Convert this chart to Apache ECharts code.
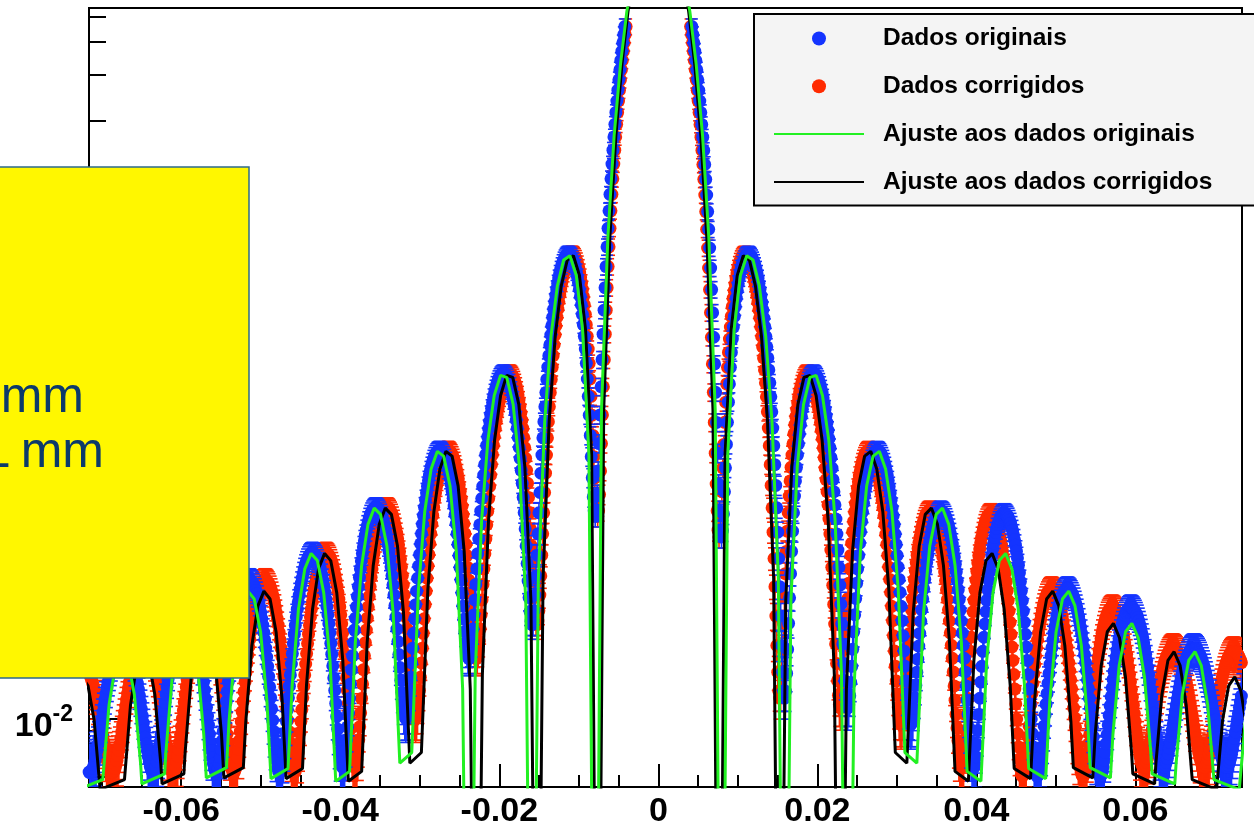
<!DOCTYPE html>
<html><head><meta charset="utf-8">
<script src="https://cdn.jsdelivr.net/npm/echarts@6/dist/echarts.min.js"></script>
<style>html,body{margin:0;padding:0;background:#fff}#c{width:1254px;height:829px}</style>
</head><body><div id="c"></div>
<script>
// ---------------- axis ticks / labels ----------------
const xTickValues = [-0.06, -0.04, -0.02, 0, 0.02, 0.04, 0.06];
const xTickLabels = ['-0.06', '-0.04', '-0.02', '0', '0.02', '0.04', '0.06'];
const xMinorTicks = [-0.07, -0.065, -0.055, -0.05, -0.045, -0.035, -0.03, -0.025, -0.015, -0.01, -0.005,
  0.005, 0.01, 0.015, 0.025, 0.03, 0.035, 0.045, 0.05, 0.055, 0.065, 0.07];
const yTickValues = [0.01, 0.1, 1];
const yTickExponents = ['-2', '-1', '0'];
const yMinorTicks = [0.006, 0.007, 0.008, 0.009, 0.02, 0.03, 0.04, 0.05, 0.06, 0.07, 0.08, 0.09,
  0.2, 0.3, 0.4, 0.5, 0.6, 0.7, 0.8, 0.9, 2, 3, 4, 5];

// ---------------- measured scan (read from picture) ----------------
// uniform scan grid; the corrected data keeps the intensities, x is rescaled
const scanStepOrig = 0.0001240625;
const scanStepCorr = 0.000119224;
const leftStartOrig = -0.0744375, rightStartOrig = 0.004218125;
const leftStartCorr = -0.0715344, rightStartCorr = 0.0040536;

const intensityLeft = [
0.01487,0.01455,0.01419,0.0138,0.01338,0.01293,0.01247,0.01199,0.0115,0.01101,0.01051,0.01002,0.00954,0.00908,0.00863,0.00821,0.00782,0.00746,0.00714,0.00686,0.00663,0.00645,0.00631,0.00623,0.0062,
0.00622,0.00631,0.00645,0.00665,0.0069,0.00721,0.00756,0.00797,0.00842,0.00891,0.00944,0.01,0.01059,0.01121,0.01184,0.01249,0.01315,0.0138,0.01445,0.01508,0.0157,0.0163,0.01687,0.01741,0.0179,0.01835,0.01875,0.0191,0.01939,0.01963,0.0198,0.0199,0.01994,0.01992,0.01982,0.01966,0.01944,0.01916,0.01881,0.01841,0.01795,0.01744,0.01689,0.0163,0.01568,0.01502,0.01435,0.01366,0.01297,0.01227,0.01158,0.01091,0.01025,0.00963,0.00903,0.00848,0.00798,0.00753,0.00714,0.00681,0.00655,0.00636,0.00624,0.0062,
0.00624,0.00636,0.00656,0.00683,0.00719,0.00762,0.00812,0.00869,0.00932,0.01002,0.01076,0.01156,0.01239,0.01326,0.01416,0.01507,0.016,0.01692,0.01783,0.01873,0.01961,0.02046,0.02126,0.02202,0.02272,0.02336,0.02393,0.02442,0.02483,0.02516,0.02541,0.02556,0.02562,0.02559,0.02546,0.02524,0.02493,0.02453,0.02404,0.02347,0.02283,0.02211,0.02134,0.0205,0.01962,0.0187,0.01775,0.01678,0.01579,0.01481,0.01383,0.01288,0.01195,0.01106,0.01022,0.00944,0.00873,0.00809,0.00753,0.00706,0.00669,0.00642,0.00626,0.0062,
0.00626,0.00643,0.00671,0.0071,0.00761,0.00822,0.00893,0.00975,0.01065,0.01164,0.01271,0.01385,0.01504,0.01629,0.01757,0.01888,0.0202,0.02153,0.02285,0.02414,0.0254,0.02662,0.02778,0.02887,0.02988,0.03081,0.03163,0.03235,0.03296,0.03344,0.0338,0.03403,0.03413,0.03409,0.03392,0.03361,0.03317,0.03261,0.03191,0.03111,0.03019,0.02917,0.02805,0.02686,0.02559,0.02427,0.0229,0.0215,0.02009,0.01867,0.01726,0.01588,0.01454,0.01325,0.01204,0.0109,0.00987,0.00894,0.00813,0.00745,0.00691,0.00652,0.00628,0.0062,
0.00627,0.00649,0.00686,0.00738,0.00804,0.00884,0.00977,0.01084,0.01203,0.01333,0.01473,0.01623,0.0178,0.01944,0.02114,0.02287,0.02462,0.02638,0.02813,0.02985,0.03153,0.03316,0.03471,0.03617,0.03753,0.03878,0.03989,0.04087,0.0417,0.04237,0.04288,0.04321,0.04337,0.04335,0.04315,0.04277,0.04222,0.0415,0.04061,0.03957,0.03838,0.03705,0.03559,0.03403,0.03236,0.03062,0.02881,0.02696,0.02508,0.0232,0.02133,0.01949,0.0177,0.01598,0.01435,0.01284,0.01145,0.0102,0.00911,0.00819,0.00747,0.00693,0.00661,0.0065,
0.00661,0.00695,0.00751,0.00829,0.0093,0.01053,0.01196,0.0136,0.01543,0.01744,0.0196,0.02191,0.02435,0.0269,0.02953,0.03222,0.03495,0.03769,0.04043,0.04313,0.04578,0.04834,0.05079,0.05311,0.05528,0.05727,0.05907,0.06065,0.062,0.06311,0.06396,0.06455,0.06487,0.06492,0.06471,0.06424,0.06349,0.0625,0.06124,0.05975,0.05803,0.0561,0.05398,0.05168,0.04922,0.04664,0.04395,0.04118,0.03837,0.03553,0.03271,0.02992,0.02721,0.02459,0.02211,0.01979,0.01765,0.01573,0.01405,0.01263,0.0115,0.01068,0.01017,0.01,
0.01017,0.0107,0.01159,0.01283,0.01443,0.01638,0.01867,0.02129,0.02421,0.02744,0.03093,0.03467,0.03863,0.04277,0.04706,0.05147,0.05597,0.06051,0.06504,0.06955,0.07397,0.07827,0.08242,0.08637,0.09008,0.09352,0.09666,0.09945,0.1019,0.1039,0.1055,0.1067,0.1074,0.1078,0.1076,0.1071,0.106,0.1046,0.1027,0.1004,0.09776,0.09471,0.09131,0.0876,0.08362,0.07939,0.07496,0.07037,0.06568,0.06093,0.05618,0.05146,0.04685,0.04238,0.03812,0.03411,0.03042,0.02708,0.02414,0.02166,0.01967,0.0182,0.01731,0.017,
0.01731,0.0183,0.01986,0.0221,0.02504,0.0286,0.03283,0.0377,0.04312,0.0491,0.0557,0.0628,0.07026,0.0782,0.0864,0.0949,0.1036,0.1125,0.1214,0.1304,0.1392,0.1479,0.1563,0.1644,0.1721,0.1794,0.186,0.1921,0.1975,0.2022,0.2061,0.2091,0.2113,0.2126,0.213,0.2125,0.211,0.2087,0.2054,0.2012,0.1961,0.1902,0.1835,0.1761,0.168,0.1593,0.1502,0.1406,0.1307,0.1206,0.1104,0.1002,0.09016,0.08036,0.07094,0.06202,0.05373,0.04619,0.03951,0.03382,0.02922,0.02582,0.02372,0.023,
0.02374,0.026,0.02988,0.0354,0.04254,0.0514,0.06189,0.0741,0.08791,0.1033,0.1203,0.1387,0.1585,0.1795,0.2017,0.2249,0.2489,0.2737,0.2989,0.3244,0.3501,0.3757,0.401,0.4259,0.45,0.4732,0.4952,0.5159,0.535,0.5523,0.5677,0.5809,0.5919,0.6007,0.607,0.6108,0.6119,0.6103,0.606,0.5989,0.589,0.5764,0.561,0.5431,0.5227,0.4999,0.4751,0.4483,0.4198,0.39,0.3591,0.3276,0.2957,0.2639,0.2327,0.2025,0.1737,0.147,0.1228,0.1018,0.08439,0.07123,0.06291,0.06,
0.0631,0.0728,0.0897,0.1143,0.1473,0.189,0.2402,0.3012,0.3725,0.4547,0.5478,0.6526,0.7691,0.8978,1.0385,1.192,1.358,1.536,1.727,1.931,2.146,2.374,2.614,2.865,3.127,3.4,3.684,3.976,4.277,4.588
];
const intensityRight = [
4.588,4.277,3.976,3.683,3.399,3.126,2.863,2.612,2.372,2.143,1.927,1.724,1.532,1.353,1.187,1.033,0.892,0.7627,0.646,0.5405,0.447,0.3644,0.293,0.2313,0.18,0.1378,0.105,0.0799,0.063,0.0531,
0.05,0.05293,0.0613,0.0746,0.0922,0.1134,0.1379,0.1649,0.1939,0.2245,0.2562,0.2883,0.3207,0.3527,0.384,0.4143,0.4433,0.4706,0.4959,0.5191,0.54,0.5584,0.5741,0.5872,0.5974,0.6049,0.6095,0.6113,0.6104,0.6068,0.6006,0.5919,0.5809,0.5677,0.5522,0.5348,0.5155,0.4946,0.4723,0.4487,0.4243,0.399,0.3733,0.3472,0.321,0.295,0.2692,0.244,0.2194,0.1957,0.173,0.1514,0.1311,0.1122,0.0948,0.07892,0.0647,0.05214,0.0413,0.03219,0.0248,0.01912,0.0151,0.01277,
0.012,0.01275,0.01493,0.01846,0.02324,0.02916,0.03611,0.04398,0.05263,0.06195,0.07181,0.08207,0.09261,0.1033,0.114,0.1247,0.1351,0.1452,0.1549,0.1641,0.1727,0.1806,0.1877,0.1941,0.1996,0.2041,0.2077,0.2104,0.2121,0.2128,0.2125,0.2113,0.2091,0.2061,0.2021,0.1974,0.1919,0.1857,0.1789,0.1714,0.1635,0.1552,0.1465,0.1376,0.1285,0.1193,0.1101,0.1009,0.0919,0.08311,0.0746,0.06639,0.0586,0.05129,0.0445,0.03821,0.0326,0.02751,0.0231,0.01939,0.0163,0.01399,0.0123,0.01133,
0.011,0.01132,0.01226,0.01379,0.01589,0.0185,0.02158,0.0251,0.02899,0.03321,0.03771,0.04243,0.04731,0.05231,0.05735,0.06239,0.06737,0.07225,0.07697,0.08149,0.08575,0.08973,0.09337,0.09666,0.09956,0.102,0.1041,0.1057,0.1068,0.1075,0.1077,0.1074,0.1067,0.1055,0.1039,0.1019,0.09943,0.09663,0.09348,0.09002,0.08629,0.08233,0.07816,0.07383,0.06939,0.06486,0.0603,0.05574,0.05122,0.04679,0.04247,0.0383,0.03433,0.03056,0.02705,0.02381,0.02086,0.01822,0.01592,0.01396,0.01235,0.0111,0.01021,0.00968,
0.0095,0.00967,0.01016,0.01096,0.01206,0.01344,0.01507,0.01694,0.01902,0.02128,0.0237,0.02624,0.02889,0.0316,0.03435,0.03711,0.03985,0.04254,0.04516,0.04767,0.05006,0.05231,0.05438,0.05626,0.05793,0.05938,0.0606,0.06158,0.0623,0.06277,0.06297,0.06292,0.06261,0.06205,0.06122,0.06015,0.05884,0.05731,0.05557,0.05364,0.05154,0.0493,0.04693,0.04445,0.0419,0.03929,0.03664,0.03399,0.03135,0.02875,0.02621,0.02375,0.02139,0.01916,0.01707,0.01513,0.01336,0.01178,0.01039,0.00921,0.00823,0.00747,0.00693,0.00661,
0.0065,0.00666,0.00714,0.00793,0.00901,0.01037,0.01198,0.01383,0.0159,0.01815,0.02057,0.02312,0.02578,0.02852,0.03131,0.03412,0.03692,0.03968,0.04238,0.04499,0.04747,0.04982,0.052,0.054,0.05579,0.05736,0.0587,0.0598,0.06064,0.06121,0.06153,0.06158,0.06136,0.06088,0.06014,0.05916,0.05793,0.05648,0.05483,0.05298,0.05095,0.04877,0.04646,0.04403,0.04152,0.03894,0.03633,0.0337,0.03107,0.02848,0.02593,0.02347,0.02111,0.01886,0.01675,0.01479,0.013,0.01139,0.00998,0.00877,0.00778,0.007,0.00644,0.00611,
0.006,0.00608,0.00629,0.00666,0.00715,0.00778,0.00852,0.00937,0.01033,0.01137,0.01248,0.01366,0.0149,0.01617,0.01746,0.01876,0.02007,0.02135,0.02261,0.02382,0.02498,0.02608,0.0271,0.02804,0.02888,0.02962,0.03026,0.03077,0.03118,0.03146,0.03161,0.03165,0.03156,0.03134,0.03101,0.03057,0.03001,0.02935,0.02859,0.02774,0.02681,0.0258,0.02474,0.02362,0.02246,0.02127,0.02006,0.01885,0.01763,0.01643,0.01525,0.01411,0.01302,0.01197,0.01099,0.01008,0.00925,0.00851,0.00785,0.00729,0.00683,0.00647,0.00621,0.00605,
0.006,0.00606,0.00623,0.00652,0.00692,0.00742,0.00801,0.00869,0.00946,0.01029,0.01119,0.01214,0.01313,0.01415,0.01519,0.01625,0.0173,0.01834,0.01936,0.02034,0.02129,0.02218,0.02301,0.02378,0.02447,0.02508,0.0256,0.02603,0.02637,0.02661,0.02675,0.02678,0.02672,0.02656,0.02631,0.02596,0.02553,0.02501,0.02442,0.02375,0.02302,0.02223,0.02139,0.02051,0.01959,0.01865,0.01769,0.01673,0.01576,0.01481,0.01388,0.01297,0.0121,0.01127,0.01049,0.00976,0.0091,0.0085,0.00798,0.00753,0.00716,0.00687,0.00667,0.00654,
0.0065,0.00653,0.00664,0.00681,0.00704,0.00733,0.00768,0.00809,0.00854,0.00903,0.00955,0.01011,0.01069,0.01129,0.01191,0.01252,0.01314,0.01375,0.01435,0.01493,0.01548,0.016,0.01649,0.01693,0.01734,0.01769,0.018,0.01825,0.01844,0.01858,0.01865,0.01867,0.01863,0.01854,0.01838,0.01817,0.01791,0.0176,0.01724,0.01684,0.0164,0.01592,0.01542,0.01489,0.01434,0.01377,0.0132,0.01262,0.01204,0.01147,0.01091,0.01037,0.00985,0.00935,0.00888,0.00845,0.00805,0.0077,0.00738,0.00711,0.0069,0.00672,0.0066,0.00652,
0.0065,0.00653,0.00663,0.00679,0.00701,0.00729,0.00762,0.008,0.00842,0.00889,0.00939,0.00992,0.01047,0.01104,0.01162,0.01221,0.0128,0.01338,0.01395,0.0145,0.01503,0.01553,0.016,0.01643,0.01682,0.01716,0.01746,0.0177,0.01789,0.01803,0.01811,0.01814,0.0181,0.01802,0.01788,0.01768,0.01744,0.01714,0.0168,0.01642,0.016
];
// error bar size: absolute part + relative part
const errAbs = 0.0012, errRel = 0.07;

// ---------------- fitted curves (symmetric about 0; right half listed) ----------------
const fitCenter = 12.9;
const fitXOrigHalf = [
0.00079,0.00159,0.00238,0.00318,0.00397,0.00476,0.00556,0.00635,0.00715,
0.00794,
0.00873,0.00953,0.01032,0.01112,0.01191,0.0127,0.0135,0.01429,0.01509,
0.01588,
0.01667,0.01747,0.01826,0.01906,0.01985,0.02064,0.02144,0.02223,0.02303,
0.02382,
0.02461,0.02541,0.0262,0.027,0.02779,0.02858,0.02938,0.03017,0.03101,
0.03251,0.03335,0.03414,0.03494,0.03573,0.03652,0.03732,0.03811,0.03883,
0.04057,0.04129,0.04208,0.04288,0.04367,0.04446,0.04526,0.04605,0.04657,
0.04871,0.04923,0.05002,0.05082,0.05161,0.0524,0.0532,0.05399,0.05431,
0.05685,0.05717,0.05796,0.05876,0.05955,0.06034,0.06114,0.06193,0.06209,
0.06495,0.06511,0.0659,0.0667,0.06749,0.06828,0.06908,0.06987,
0.07305,0.07384,0.07464,0.07543,0.07622,0.07702];
const fitXCorrHalf = [
0.00076,0.00153,0.00229,0.00305,0.00382,0.00458,0.00534,0.0061,0.00687,
0.00763,
0.00839,0.00916,0.00992,0.01068,0.01145,0.01221,0.01297,0.01373,0.0145,
0.01526,
0.01602,0.01679,0.01755,0.01831,0.01908,0.01984,0.0206,0.02136,0.02213,
0.02289,
0.02365,0.02442,0.02518,0.02594,0.02671,0.02747,0.02823,0.02899,0.0298,
0.03125,0.03205,0.03281,0.03357,0.03434,0.0351,0.03586,0.03662,0.03731,
0.03899,0.03968,0.04044,0.0412,0.04197,0.04273,0.04349,0.04425,0.04475,
0.04681,0.04731,0.04807,0.04883,0.0496,0.05036,0.05112,0.05188,0.05219,
0.05463,0.05494,0.0557,0.05646,0.05723,0.05799,0.05875,0.05951,0.05967,
0.06241,0.06257,0.06333,0.06409,0.06486,0.06562,0.06638,0.06714,
0.0702,0.07096,0.07172,0.07249,0.07325,0.07401];
const fitYHalf = [
12.48,11.29,9.505,7.389,5.228,3.284,1.746,0.7056,0.1541,
0.0001,
0.1032,0.3136,0.5062,0.6032,0.5809,0.4618,0.296,0.1394,0.03458,
0.0001,
0.0283,0.0933,0.1617,0.2053,0.2091,0.1749,0.1174,0.0576,0.01484,
0.0001,
0.01299,0.0441,0.07856,0.1023,0.1067,0.09123,0.06249,0.03127,0.00741,
0.006739,0.0256,0.04627,0.06107,0.06455,0.05587,0.03873,0.0196,0.00627,
0.005743,0.0167,0.03046,0.04054,0.04321,0.0377,0.02633,0.01342,0.006435,
0.005881,0.01175,0.02155,0.02886,0.03094,0.02714,0.01906,0.009766,0.006484,
0.005918,0.008711,0.01605,0.02159,0.02324,0.02047,0.01443,0.007423,0.006137,
0.005608,0.006716,0.01242,0.01676,0.01809,0.01599,0.0113,0.005831,
0.005335,0.009891,0.01338,0.01448,0.01283,0.009093];

// ---------------- build tables ----------------
function scanTable(startL, startR, step) {
  const pts = [];
  intensityLeft.forEach((v, i) => pts.push([startL + i * step, v]));
  intensityRight.forEach((v, i) => pts.push([startR + i * step, v]));
  return pts;
}
function fitTable(xs) {
  const pts = [];
  for (let i = xs.length - 1; i >= 0; i--) pts.push([-xs[i], fitYHalf[i]]);
  pts.push([0, fitCenter]);
  for (let i = 0; i < xs.length; i++) pts.push([xs[i], fitYHalf[i]]);
  return pts;
}
const origData = scanTable(leftStartOrig, rightStartOrig, scanStepOrig);
const corrData = scanTable(leftStartCorr, rightStartCorr, scanStepCorr);

const BLUE = '#1434ff', RED = '#ff2a00', GREEN = '#22f022', BLACK = '#000000';
const FONT = '"Liberation Sans", Arial, Helvetica, sans-serif';

function errSeries(data, color, z) {
  return {
    type: 'custom', name: 'err' + color, data: data, z: z, clip: true, silent: true,
    xAxisIndex: 0, yAxisIndex: 0, encode: {x: 0, y: 1},
    renderItem: function (params, api) {
      const x = api.value(0), y = api.value(1);
      const e = errAbs + errRel * y;
      const top = api.coord([x, y + e]);
      const bot = api.coord([x, Math.max(y - e, 1e-4)]);
      const w = 6, st = {stroke: color, lineWidth: 1.6};
      return {type: 'group', children: [
        {type: 'line', shape: {x1: top[0], y1: top[1], x2: bot[0], y2: bot[1]}, style: st},
        {type: 'line', shape: {x1: top[0] - w, y1: top[1], x2: top[0] + w, y2: top[1]}, style: st},
        {type: 'line', shape: {x1: bot[0] - w, y1: bot[1], x2: bot[0] + w, y2: bot[1]}, style: st}
      ]};
    }
  };
}

const chart = echarts.init(document.getElementById('c'), null, {renderer: 'canvas'});
const xMin = -0.0716, xMax = 0.0734, yMin = 0.00546, yMax = 5.41;
chart.setOption({
  animation: false,
  backgroundColor: '#ffffff',
  grid: {left: 89, right: 12, top: 8, bottom: 39, show: true, borderColor: '#000', borderWidth: 2, backgroundColor: 'transparent'},
  xAxis: [{
    type: 'value', min: xMin, max: xMax,
    axisLine: {show: true, onZero: false, lineStyle: {color: '#000', width: 2}},
    axisTick: {show: true, inside: true, length: 23, customValues: xTickValues, lineStyle: {color: '#000', width: 2}},
    axisLabel: {show: true, customValues: xTickValues, margin: 8, color: '#000', fontSize: 34, fontWeight: 'bold', fontFamily: FONT,
      formatter: v => { const i = xTickValues.findIndex(t => Math.abs(t - v) < 1e-9); return i >= 0 ? xTickLabels[i] : ''; }},
    splitLine: {show: false}
  }, {
    type: 'value', min: xMin, max: xMax, position: 'bottom',
    axisLine: {show: false, onZero: false}, axisLabel: {show: false}, splitLine: {show: false},
    axisTick: {show: true, inside: true, length: 12, customValues: xMinorTicks, lineStyle: {color: '#000', width: 2}}
  }],
  yAxis: [{
    type: 'log', logBase: 10, min: yMin, max: yMax, position: 'left',
    axisLine: {show: true, onZero: false, lineStyle: {color: '#000', width: 2}},
    axisTick: {show: true, inside: true, length: 35, customValues: yTickValues, lineStyle: {color: '#000', width: 2}},
    axisLabel: {show: true, customValues: yTickValues, margin: 16,
      formatter: v => { const i = yTickValues.findIndex(t => Math.abs(Math.log10(t) - Math.log10(v)) < 1e-6); return i >= 0 ? '{b|10}{s|' + yTickExponents[i] + '}' : ''; },
      rich: {
        b: {fontSize: 34, fontWeight: 'bold', fontFamily: FONT, color: '#000', lineHeight: 49, verticalAlign: 'bottom'},
        s: {fontSize: 23, fontWeight: 'bold', fontFamily: FONT, color: '#000', lineHeight: 23, verticalAlign: 'top', padding: [9, 0, 0, 0]}
      }},
    splitLine: {show: false}
  }, {
    type: 'log', logBase: 10, min: yMin, max: yMax, position: 'left',
    axisLine: {show: false, onZero: false}, axisLabel: {show: false}, splitLine: {show: false},
    axisTick: {show: true, inside: true, length: 17, customValues: yMinorTicks, lineStyle: {color: '#000', width: 2}}
  }],
  legend: {
    orient: 'vertical', left: 754, top: 14, z: 100,
    itemWidth: 90, itemHeight: 14, itemGap: 22.8,
    padding: [12, 60, 11, 19],
    backgroundColor: '#f4f4f4', borderColor: '#000', borderWidth: 2, borderRadius: 0,
    selectedMode: false,
    textStyle: {fontSize: 24.5, fontWeight: 'bold', fontFamily: FONT, color: '#000', padding: [0, 0, 0, 14]},
    data: [
      {name: 'Dados originais', icon: 'circle', itemStyle: {opacity: 1}},
      {name: 'Dados corrigidos', icon: 'circle', itemStyle: {opacity: 1}},
      {name: 'Ajuste aos dados originais', itemStyle: {opacity: 0}},
      {name: 'Ajuste aos dados corrigidos', itemStyle: {opacity: 0}}
    ]
  },
  series: [
    errSeries(corrData, RED, 1),
    {type: 'scatter', name: 'Dados corrigidos', data: corrData, symbol: 'circle', symbolSize: 13, z: 2,
      itemStyle: {color: RED, opacity: 1}, xAxisIndex: 0, yAxisIndex: 0, clip: true, large: false},
    errSeries(origData, BLUE, 3),
    {type: 'scatter', name: 'Dados originais', data: origData, symbol: 'circle', symbolSize: 13, z: 4,
      itemStyle: {color: BLUE, opacity: 1}, xAxisIndex: 0, yAxisIndex: 0, clip: true, large: false},
    {type: 'line', name: 'Ajuste aos dados corrigidos', data: fitTable(fitXCorrHalf), symbol: 'none', z: 5,
      lineStyle: {color: BLACK, width: 3}, itemStyle: {color: BLACK}, clip: true, xAxisIndex: 0, yAxisIndex: 0},
    {type: 'line', name: 'Ajuste aos dados originais', data: fitTable(fitXOrigHalf), symbol: 'none', z: 6,
      lineStyle: {color: GREEN, width: 3}, itemStyle: {color: GREEN}, clip: true, xAxisIndex: 0, yAxisIndex: 0}
  ],
  graphic: [
    {type: 'rect', z: 100, shape: {x: -10, y: 167, width: 259, height: 511},
      style: {fill: '#fff700', stroke: '#2e6a8a', lineWidth: 1.5}},
    {type: 'text', z: 101, x: 84, y: 398,
      style: {text: 'mm', font: '50px "Liberation Sans", Arial, sans-serif', fill: '#0c3a6b', textAlign: 'right', textVerticalAlign: 'middle', align: 'right', verticalAlign: 'middle'}},
    {type: 'text', z: 101, x: 104, y: 453,
      style: {text: '1\u2009mm', font: '50px "Liberation Sans", Arial, sans-serif', fill: '#0c3a6b', textAlign: 'right', textVerticalAlign: 'middle', align: 'right', verticalAlign: 'middle'}}
  ]
});
</script>
</body></html>
